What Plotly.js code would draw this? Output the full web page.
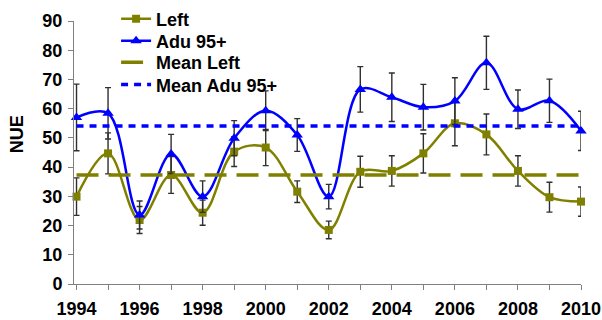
<!DOCTYPE html>
<html>
<head>
<meta charset="utf-8">
<script src="https://cdn.plot.ly/plotly-3.0.1.min.js"></script>
<style>html,body{margin:0;padding:0;background:#fff}#chart{width:602px;height:320px}</style>
</head>
<body>
<div id="chart"></div>
<script>
var years = [1994,1995,1996,1997,1998,1999,2000,2001,2002,2003,2004,2005,2006,2007,2008,2009,2010];
var leftValues = [29.9,44.7,21.9,37.3,24.4,45.3,46.7,31.6,18.5,38.4,38.7,44.7,55.0,51.2,38.7,29.7,28.2];
var leftErrors = [6.4,7.0,4.6,6.3,4.3,5.1,6.2,3.7,3.0,5.3,5.2,6.7,7.7,7.0,5.2,5.1,5.0];
var aduValues = [57.0,58.4,23.6,44.5,29.9,49.9,59.3,51.0,29.9,66.6,63.9,60.5,62.6,75.7,59.8,62.7,52.4];
var aduErrors = [11.4,8.8,4.8,6.7,5.4,6.0,6.8,5.6,4.2,7.8,8.3,7.8,8.0,9.1,6.6,7.4,6.7];
var meanLeft = 37.3;
var meanAdu = 54.1;
var meanX = [1994, 2010];
var tickYears = years;
var tickLabels = years.map(function(y){ return (y % 2 === 0) ? String(y) : ''; });

var font = 'Liberation Sans, Arial, sans-serif';
var legendFont = {family: font, size: 18, color: '#000', weight: 'bold'};

var traces = [
  {
    x: years, y: leftValues, name: 'Left', type: 'scatter', mode: 'lines+markers', legend: 'legend',
    line: {color: '#808000', width: 2.5, shape: 'spline', smoothing: 1},
    marker: {symbol: 'square', size: 8, color: '#808000'},
    error_y: {type: 'data', array: leftErrors, visible: true, color: '#303030', thickness: 1.4, width: 3},
    cliponaxis: false
  },
  {
    x: years, y: aduValues, name: 'Adu 95+', type: 'scatter', mode: 'lines+markers', legend: 'legend2',
    line: {color: '#0000FF', width: 2.5, shape: 'spline', smoothing: 1},
    marker: {symbol: 'triangle-up', size: 10, color: '#0000FF'},
    error_y: {type: 'data', array: aduErrors, visible: true, color: '#303030', thickness: 1.4, width: 3},
    cliponaxis: false
  },
  {
    x: meanX, y: [meanLeft, meanLeft], name: 'Mean Left', type: 'scatter', mode: 'lines', legend: 'legend3',
    line: {color: '#808000', width: 3.5, dash: '22px,10px'}
  },
  {
    x: meanX, y: [meanAdu, meanAdu], name: 'Mean Adu 95+', type: 'scatter', mode: 'lines', legend: 'legend4',
    line: {color: '#0000FF', width: 3.5, dash: '7px,6px'}
  }
];

function leg(yc) {
  return {x: 0.083, y: yc, xanchor: 'left', yanchor: 'middle', bgcolor: 'rgba(0,0,0,0)',
          font: legendFont, itemwidth: 30};
}

var layout = {
  width: 602, height: 320,
  margin: {l: 74, r: 21, t: 21, b: 36, autoexpand: false},
  paper_bgcolor: '#fff', plot_bgcolor: '#fff',
  font: {family: font, size: 18, color: '#000'},
  showlegend: true,
  legend: leg(1.0076),
  legend2: leg(0.924),
  legend3: leg(0.842),
  legend4: leg(0.757),
  xaxis: {
    range: [1993.92, 2010],
    tickvals: tickYears, ticktext: tickLabels,
    ticks: 'outside', ticklen: 5, tickcolor: '#808080', tickwidth: 1,
    showline: true, linecolor: '#808080', linewidth: 1,
    showgrid: false, zeroline: false, ticklabelstandoff: 3,
    tickfont: {family: font, size: 18, color: '#000', weight: 'bold'}
  },
  yaxis: {
    range: [0, 90], dtick: 10, tick0: 0,
    ticks: 'outside', ticklen: 5, tickcolor: '#808080', tickwidth: 1,
    showline: true, linecolor: '#808080', linewidth: 1,
    showgrid: false, zeroline: false, ticklabelstandoff: 2,
    tickfont: {family: font, size: 18, color: '#000', weight: 'bold'}
  },
  annotations: [
    {text: 'NUE', xref: 'paper', yref: 'paper', x: -0.112, y: 0.57, xanchor: 'center', yanchor: 'middle',
     textangle: -90, showarrow: false, font: {family: font, size: 18, color: '#000', weight: 'bold'}}
  ]
};

Plotly.newPlot('chart', traces, layout, {displayModeBar: false, staticPlot: true});
</script>
</body>
</html>
